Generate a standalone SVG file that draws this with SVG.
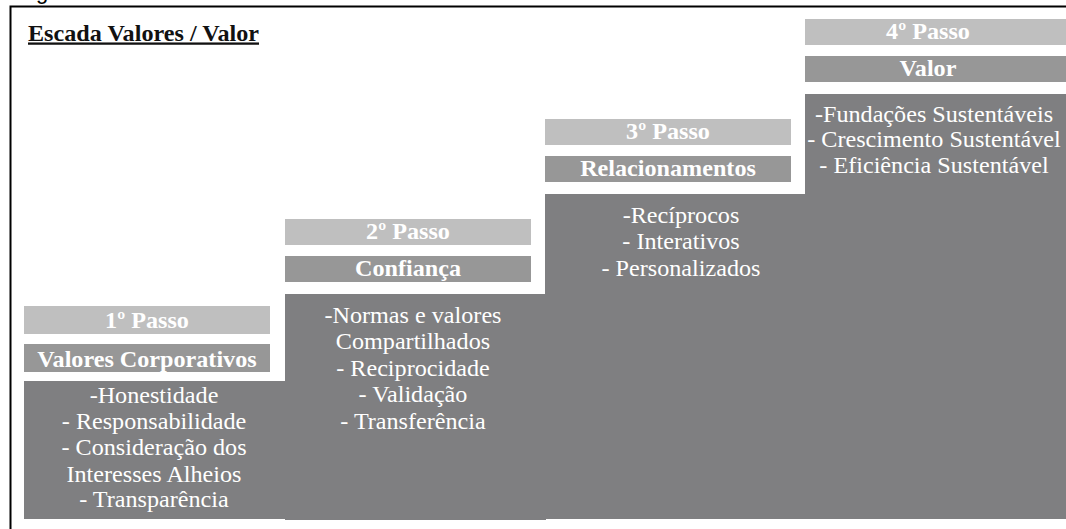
<svg xmlns="http://www.w3.org/2000/svg" width="1066" height="529" viewBox="0 0 1066 529">
<style>
.t{font-family:"Liberation Serif","Times New Roman",serif;font-size:23px;fill:#ffffff;text-anchor:middle}
.b{font-weight:bold}
.lt{fill:#bfbfbf}
.md{fill:#979797}
.dk{fill:#7f7f81}
.frame{fill:none;stroke:#000;stroke-width:2}
</style>
<rect width="1066" height="529" fill="#ffffff"/>
<text x="36" y="-1" font-family="Liberation Sans, Arial, sans-serif" font-size="22" fill="#000">g</text>
<path class="frame" d="M10.5,529 V6.5 H1066"/>
<text transform="translate(28 40.5) scale(1.05 1)" font-family="Liberation Serif, serif" font-size="23" font-weight="bold" text-decoration="underline" fill="#111">Escada Valores / Valor</text>
<g id="connectors"></g>
<g id="step1">
<rect class="dk" x="24" y="381" width="262" height="138"/>
<rect class="lt" x="24" y="306" width="246" height="28"/>
<rect class="md" x="24" y="344" width="246" height="28"/>
<text class="t b" transform="translate(147 0) scale(1.05 1)"><tspan x="0" y="328">1º Passo</tspan><tspan x="0" y="367">Valores Corporativos</tspan></text>
<text class="t" transform="translate(154 0) scale(1.05 1)"><tspan x="0" y="403">-Honestidade</tspan><tspan x="0" y="429">- Responsabilidade</tspan><tspan x="0" y="455.5">- Consideração dos</tspan><tspan x="0" y="482">Interesses Alheios</tspan><tspan x="0" y="507">- Transparência</tspan></text>
</g>
<g id="step2">
<rect class="dk" x="285" y="294" width="261" height="226"/>
<rect class="lt" x="285" y="219" width="246" height="26"/>
<rect class="md" x="285" y="256" width="246" height="26"/>
<text class="t b" transform="translate(408 0) scale(1.05 1)"><tspan x="0" y="239.5">2º Passo</tspan><tspan x="0" y="276.5">Confiança</tspan></text>
<text class="t" transform="translate(413 0) scale(1.05 1)"><tspan x="0" y="323.5">-Normas e valores</tspan><tspan x="0" y="349.5">Compartilhados</tspan><tspan x="0" y="376">- Reciprocidade</tspan><tspan x="0" y="402.5">- Validação</tspan><tspan x="0" y="429">- Transferência</tspan></text>
</g>
<g id="step3">
<rect class="dk" x="545" y="194" width="261" height="325"/>
<rect class="lt" x="545" y="119" width="246" height="26"/>
<rect class="md" x="545" y="156" width="246" height="26"/>
<text class="t b" transform="translate(668 0) scale(1.05 1)"><tspan x="0" y="139.5">3º Passo</tspan><tspan x="0" y="176.5">Relacionamentos</tspan></text>
<text class="t" transform="translate(681 0) scale(1.05 1)"><tspan x="0" y="223.5">-Recíprocos</tspan><tspan x="0" y="249.5">- Interativos</tspan><tspan x="0" y="276">- Personalizados</tspan></text>
</g>
<g id="step4">
<rect class="dk" x="805" y="94" width="261" height="425"/>
<rect class="lt" x="805" y="19" width="261" height="26"/>
<rect class="md" x="805" y="56" width="261" height="26"/>
<text class="t b" transform="translate(928 0) scale(1.05 1)"><tspan x="0" y="39.5">4º Passo</tspan><tspan x="0" y="76.5">Valor</tspan></text>
<text class="t" transform="translate(934 0) scale(1.05 1)"><tspan x="0" y="122">-Fundações Sustentáveis</tspan><tspan x="0" y="147.5">- Crescimento Sustentável</tspan><tspan x="0" y="173">- Eficiência Sustentável</tspan></text>
</g>
</svg>
